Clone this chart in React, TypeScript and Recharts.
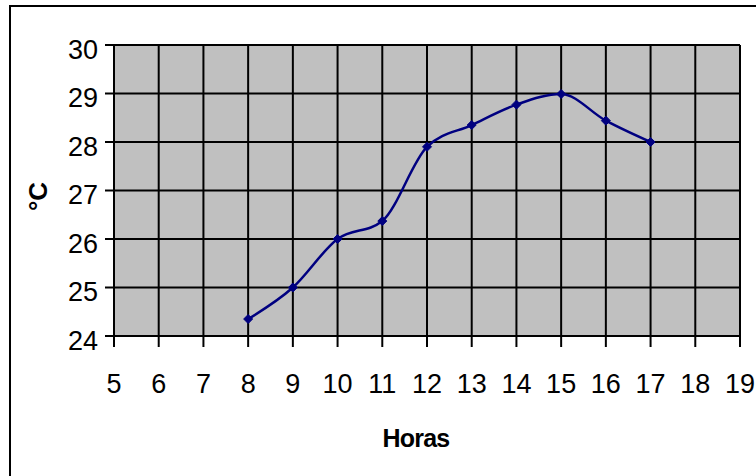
import { LineChart, Line, XAxis, YAxis, CartesianGrid } from 'recharts';

const HORAS = [8, 9, 10, 11, 12, 13, 14, 15, 16, 17];
const TEMP = [24.35, 25.0, 26.0, 26.37, 27.9, 28.35, 28.77, 28.99, 28.44, 28.0];
const X_TICKS = [5, 6, 7, 8, 9, 10, 11, 12, 13, 14, 15, 16, 17, 18, 19];
const Y_TICKS = [24, 25, 26, 27, 28, 29, 30];

const data = HORAS.map((h, i) => ({ hora: h, temp: TEMP[i] }));

const FONT = '"Liberation Sans", Arial, sans-serif';
const NAVY = '#000080';

// losango pequeno como no Excel
const Diamond = (props: any) => {
  const { cx, cy, index } = props;
  if (cx == null || cy == null) return null;
  const r = 4.5;
  return (
    <path
      key={`d-${index}`}
      d={`M${cx},${cy - r} L${cx + r},${cy} L${cx},${cy + r} L${cx - r},${cy} Z`}
      fill={NAVY}
      stroke={NAVY}
    />
  );
};

export default function App() {
  return (
    <div style={{ position: 'fixed', left: 0, top: 0, width: 756, height: 476, overflow: 'hidden', background: '#fff' }}>
      <div
        style={{
          position: 'absolute',
          left: 9,
          top: 5,
          width: 800,
          height: 500,
          borderTop: '2px solid #000',
          borderLeft: '2px solid #000',
        }}
      />
      <div style={{ position: 'absolute', left: 0, top: 0 }}>
        <LineChart width={756} height={476} data={data} margin={{ top: 45, right: 16, left: 0, bottom: 0 }}>
          <CartesianGrid
            fill="#c0c0c0"
            fillOpacity={1}
            stroke="#000"
            strokeWidth={2}
            horizontalValues={Y_TICKS}
            verticalValues={X_TICKS}
          />
          <XAxis
            type="number"
            dataKey="hora"
            domain={[5, 19]}
            ticks={X_TICKS}
            interval={0}
            height={140}
            tickSize={11}
            tickMargin={27}
            stroke="#000"
            strokeWidth={2}
            tick={{ fill: '#000', fontSize: 27, fontFamily: FONT }}
            label={{
              value: 'Horas',
              position: 'insideBottom',
              offset: 29,
              dx: -11,
              style: { fill: '#000', fontSize: 25, fontWeight: 'bold', fontFamily: FONT, letterSpacing: -0.8 },
            }}
          />
          <YAxis
            type="number"
            domain={[24, 30]}
            ticks={Y_TICKS}
            interval={0}
            width={114}
            tickSize={9}
            tickMargin={7}
            stroke="#000"
            strokeWidth={2}
            tick={{ fill: '#000', fontSize: 27, fontFamily: FONT, dy: 4 }}
            label={{
              value: '°C',
              angle: -90,
              position: 'insideLeft',
              offset: 38,
              dy: 6,
              style: { fill: '#000', fontSize: 26, fontWeight: 'bold', fontFamily: FONT, textAnchor: 'middle' },
            }}
          />
          <Line
            type="monotone"
            dataKey="temp"
            stroke={NAVY}
            strokeWidth={2.5}
            dot={<Diamond />}
            activeDot={false}
            isAnimationActive={false}
          />
        </LineChart>
      </div>
    </div>
  );
}
